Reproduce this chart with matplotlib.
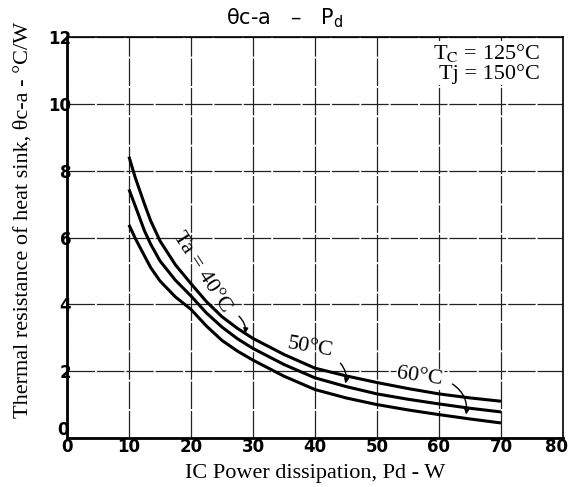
import matplotlib
matplotlib.use("Agg")
import matplotlib.pyplot as plt
from matplotlib.transforms import ScaledTranslation

# power dissipation Pd (W) and heat sink resistance θc-a (°C/W)
pd_w = [10, 11, 12.5, 13.5, 15, 17.5, 20, 22.5, 25, 27.5, 30, 35, 40, 45, 50, 55, 60, 65, 70]
theta_40 = [8.42, 7.8, 7.0, 6.5, 5.9, 5.18, 4.62, 4.08, 3.63, 3.28, 2.98, 2.5, 2.09,
            1.86, 1.66, 1.48, 1.32, 1.2, 1.1]
theta_50 = [7.44, 6.95, 6.2, 5.8, 5.3, 4.72, 4.25, 3.74, 3.32, 2.97, 2.68, 2.2, 1.8,
            1.54, 1.32, 1.16, 1.02, 0.89, 0.78]
theta_60 = [6.38, 5.98, 5.45, 5.1, 4.7, 4.22, 3.85, 3.35, 2.92, 2.6, 2.33, 1.85, 1.45,
            1.2, 1.0, 0.84, 0.7, 0.57, 0.45]

x_ticks = [0, 10, 20, 30, 40, 50, 60, 70, 80]
y_ticks = [0, 2, 4, 6, 8, 10, 12]

serif = "Liberation Serif"

fig = plt.figure(figsize=(5.7, 4.87), dpi=100)
ax = fig.add_axes([0.1175, 0.1006, 0.8702, 0.8234])

for vals in (theta_40, theta_50, theta_60):
    ax.plot(pd_w, vals, color="black", lw=2.2, solid_capstyle="butt",
            solid_joinstyle="round", zorder=3)

ax.set_xlim(0, 80)
ax.set_ylim(0, 12)
ax.set_xticks(x_ticks)
ax.set_yticks(y_ticks)
ax.grid(True, color="#222222", lw=0.9, linestyle=(0, (22, 1.5)))
ax.tick_params(length=0, labelsize=12)
ax.tick_params(axis="x", pad=0)
ax.tick_params(axis="y", pad=-3)
for lab in ax.get_xticklabels() + ax.get_yticklabels():
    lab.set_fontweight("bold")
# last x label sits at the figure edge, nudge it inward a little
last = ax.get_xticklabels()[-1]
last.set_transform(last.get_transform() + ScaledTranslation(-5 / 72, 0, fig.dpi_scale_trans))
# y "0" sits just above the x "0"
first = ax.get_yticklabels()[0]
first.set_transform(first.get_transform() + ScaledTranslation(-2 / 72, 7 / 72, fig.dpi_scale_trans))

ax.spines["left"].set_linewidth(2.0)
ax.spines["bottom"].set_linewidth(2.0)
ax.spines["top"].set_linewidth(1.2)
ax.spines["right"].set_linewidth(1.2)

ax.set_xlabel("IC Power dissipation, Pd - W", family=serif, fontsize=16, labelpad=6)
ax.set_ylabel("Thermal resistance of heat sink, θc-a - °C/W", family=serif,
              fontsize=16)
ax.yaxis.set_label_coords(-0.07, 0.545)
fig.text(0.5, 0.962, "θc-a   –   P$_{\\rm d}$", ha="center", va="center", fontsize=15)

ax.text(76.3, 11.85, "T$_{\\rm C}$ = 125°C\nTj = 150°C", family=serif, fontsize=16,
        ha="right", va="top", linespacing=1.0, math_fontfamily="stix",
        bbox=dict(facecolor="white", edgecolor="none", pad=1), zorder=4)

# curve labels with small arrows
ax.text(21.8, 4.95, "Ta = 40°C", family=serif, fontsize=16, rotation=-57,
        ha="center", va="center", zorder=4)
ax.annotate("", xy=(28.7, 3.05), xytext=(27.4, 3.7),
            arrowprops=dict(arrowstyle="-|>", color="black", lw=1,
                            connectionstyle="arc3,rad=-0.3", mutation_scale=7))
ax.text(39.2, 2.72, "50°C", family=serif, fontsize=16, rotation=-10,
        ha="center", va="center", zorder=4)
ax.annotate("", xy=(44.8, 1.55), xytext=(43.8, 2.3),
            arrowprops=dict(arrowstyle="-|>", color="black", lw=1,
                            connectionstyle="arc3,rad=-0.3", mutation_scale=7))
ax.text(56.9, 1.83, "60°C", family=serif, fontsize=16, rotation=-8,
        ha="center", va="center", zorder=4,
        bbox=dict(facecolor="white", edgecolor="none", pad=0.5))
ax.annotate("", xy=(64.3, 0.62), xytext=(61.8, 1.66),
            arrowprops=dict(arrowstyle="-|>", color="black", lw=1,
                            connectionstyle="arc3,rad=-0.35", mutation_scale=7))

fig.savefig("out.png", dpi=100)
